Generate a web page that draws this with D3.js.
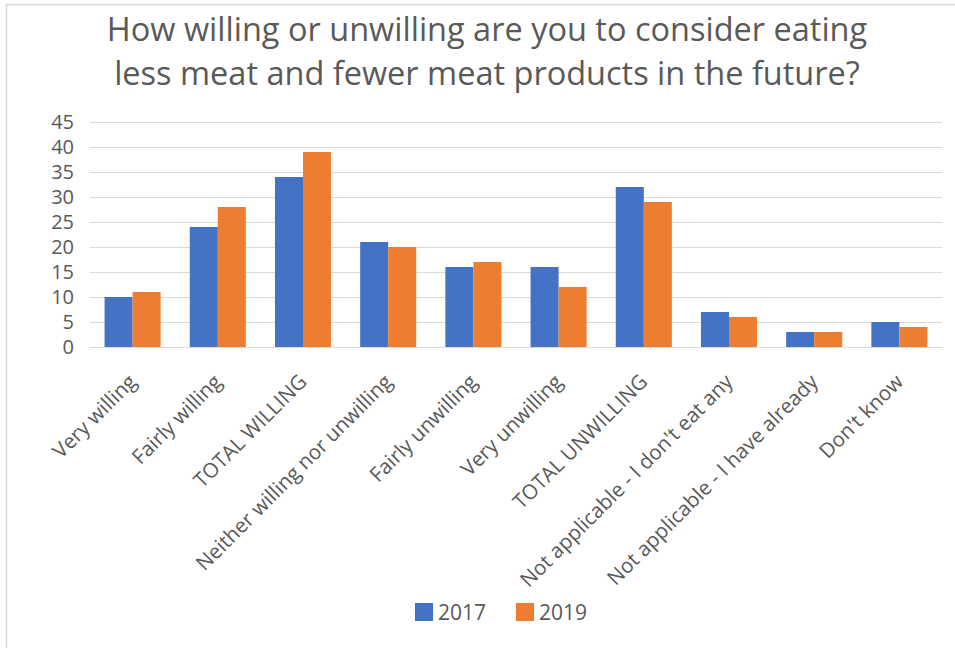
<!DOCTYPE html>
<html>
<head>
<meta charset="utf-8">
<script src="https://cdn.jsdelivr.net/npm/d3@7"></script>
<style>
  html, body { margin: 0; padding: 0; background: #fff; }
  svg { display: block; }
  text { font-family: "Open Sans", sans-serif; fill: #595959; }
</style>
</head>
<body>
<svg id="chart" width="955" height="648"></svg>
<script>
// Survey answers along the x axis
const categories = [
  "Very willing",
  "Fairly willing",
  "TOTAL WILLING",
  "Neither willing nor unwilling",
  "Fairly unwilling",
  "Very unwilling",
  "TOTAL UNWILLING",
  "Not applicable - I don't eat any",
  "Not applicable - I have already",
  "Don't know"
];
// Share of respondents (%) per survey year
const years = ["2017", "2019"];
const values2017 = [10, 24, 34, 21, 16, 16, 32, 7, 3, 5];
const values2019 = [11, 28, 39, 20, 17, 12, 29, 6, 3, 4];
const yTicks = [0, 5, 10, 15, 20, 25, 30, 35, 40, 45];
const titleLines = [
  "How willing or unwilling are you to consider eating",
  "less meat and fewer meat products in the future?"
];
const colors = { "2017": "#4472C4", "2019": "#ED7D31" };

const svg = d3.select("#chart");
const W = 955, H = 648;
const plot = { left: 90, right: 942, top: 122, bottom: 347 };

// chart frame (left and top edges)
svg.append("path")
  .attr("d", `M6.5,${H} V4.5 H${W}`)
  .attr("fill", "none")
  .attr("stroke", "#d9d9d9")
  .attr("stroke-width", 1.5);

// title
const title = svg.append("g");
titleLines.forEach((line, i) => {
  title.append("text")
    .attr("x", 487)
    .attr("y", 41 + i * 44)
    .attr("text-anchor", "middle")
    .style("font-size", "32.5px")
    .text(line);
});

const x = d3.scaleBand()
  .domain(categories)
  .range([plot.left, plot.right])
  .paddingInner(0)
  .paddingOuter(0);

const x1 = d3.scaleBand()
  .domain(years)
  .range([0, x.bandwidth()])
  .paddingInner(0)
  .paddingOuter(0.52);

const y = d3.scaleLinear()
  .domain([0, 45])
  .range([plot.bottom, plot.top]);

// horizontal gridlines
svg.append("g")
  .selectAll("line")
  .data(yTicks)
  .join("line")
  .attr("x1", plot.left)
  .attr("x2", plot.right)
  .attr("y1", d => Math.round(y(d)) + 0.5)
  .attr("y2", d => Math.round(y(d)) + 0.5)
  .attr("stroke", "#d9d9d9")
  .attr("stroke-width", 1);

// y axis labels
const yAxis = svg.append("g")
  .attr("transform", `translate(${plot.left},0)`)
  .call(d3.axisLeft(y).tickValues(yTicks).tickSize(0).tickPadding(16));
yAxis.select(".domain").remove();
yAxis.selectAll("text")
  .style("font-size", "20px")
  .style("font-family", "'Open Sans', sans-serif")
  .attr("fill", "#595959");

// bars
const rows = categories.map((c, i) => ({ cat: c, vals: [values2017[i], values2019[i]] }));
const groups = svg.append("g")
  .selectAll("g")
  .data(rows)
  .join("g")
  .attr("transform", d => `translate(${x(d.cat)},0)`);

groups.selectAll("rect")
  .data(d => d.vals.map((v, j) => ({ year: years[j], v })))
  .join("rect")
  .attr("x", d => x1(d.year))
  .attr("width", x1.bandwidth())
  .attr("y", d => y(d.v))
  .attr("height", d => y(0) - y(d.v))
  .attr("fill", d => colors[d.year]);

// category labels, rotated
const xAxis = svg.append("g")
  .attr("transform", `translate(0,${plot.bottom})`)
  .call(d3.axisBottom(x).tickSize(0).tickPadding(0));
xAxis.select(".domain").remove();
xAxis.selectAll("text")
  .style("font-size", "20.5px")
  .style("font-family", "'Open Sans', sans-serif")
  .attr("fill", "#595959")
  .attr("text-anchor", "end")
  .attr("dy", "0.35em")
  .attr("y", 0)
  .attr("transform", "translate(0,31) rotate(-45)");

// legend
const legend = svg.append("g");
const legendItems = [
  { year: "2017", x: 415 },
  { year: "2019", x: 516 }
];
legendItems.forEach(item => {
  legend.append("rect")
    .attr("x", item.x)
    .attr("y", 603)
    .attr("width", 18)
    .attr("height", 18)
    .attr("fill", colors[item.year]);
  legend.append("text")
    .attr("x", item.x + 23)
    .attr("y", 620)
    .style("font-size", "21px")
    .text(item.year);
});
</script>
</body>
</html>
